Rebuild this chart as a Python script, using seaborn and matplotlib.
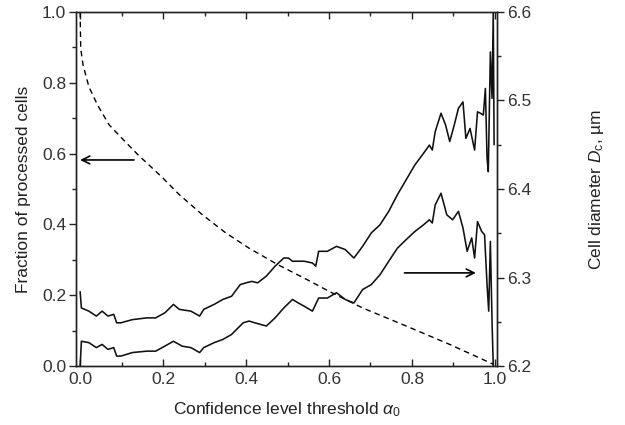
import matplotlib
matplotlib.use("Agg")
import matplotlib.pyplot as plt
import seaborn as sns
import pandas as pd
from matplotlib.ticker import MultipleLocator, FormatStrFormatter

sns.set_style("ticks")
plt.rcParams['font.family'] = ['Liberation Sans', 'DejaVu Sans']
plt.rcParams['mathtext.fontset'] = 'custom'
plt.rcParams['mathtext.rm'] = 'Liberation Sans'
plt.rcParams['mathtext.it'] = 'Liberation Sans:italic'

# Fraction of processed cells (left axis, dashed)
frac_x = [0.0, 0.0014, 0.007, 0.021, 0.042, 0.070, 0.105, 0.140, 0.196, 0.239,
          0.295, 0.351, 0.407, 0.477, 0.547, 0.600, 0.681, 0.786, 0.891, 0.996]
frac_y = [1.0, 0.897, 0.85, 0.789, 0.737, 0.681, 0.638, 0.596, 0.535, 0.484,
          0.427, 0.376, 0.333, 0.286, 0.244, 0.211, 0.164, 0.113, 0.061, 0.005]

# Cell diameter, upper curve (right axis)
up_x = [0.000, 0.003, 0.021, 0.039, 0.053, 0.067, 0.081, 0.088, 0.098, 0.126,
        0.161, 0.182, 0.204, 0.225, 0.239, 0.267, 0.288, 0.298, 0.323, 0.344,
        0.365, 0.386, 0.400, 0.414, 0.428, 0.449, 0.470, 0.491, 0.502, 0.512,
        0.540, 0.560, 0.568, 0.575, 0.596, 0.618, 0.639, 0.660, 0.681, 0.702,
        0.723, 0.744, 0.765, 0.786, 0.807, 0.828, 0.842, 0.849, 0.856, 0.870,
        0.881, 0.891, 0.902, 0.912, 0.923, 0.930, 0.940, 0.951, 0.958, 0.965,
        0.972, 0.977, 0.981, 0.984, 0.989, 0.993, 0.996, 0.998]
up_y = [6.284, 6.2656, 6.262, 6.2564, 6.262, 6.2564, 6.2584, 6.2488, 6.2488, 6.2524,
        6.2544, 6.2544, 6.260, 6.2696, 6.264, 6.262, 6.2564, 6.264, 6.2696, 6.2752,
        6.2788, 6.292, 6.294, 6.2956, 6.294, 6.3016, 6.3128, 6.322, 6.322, 6.3184,
        6.3184, 6.3164, 6.3128, 6.3296, 6.3296, 6.3352, 6.3316, 6.322, 6.3352, 6.3504,
        6.3596, 6.3748, 6.3936, 6.4104, 6.4272, 6.4404, 6.4496, 6.444, 6.4648, 6.4856,
        6.4724, 6.4536, 6.4724, 6.4912, 6.4984, 6.4572, 6.4684, 6.444, 6.4872, 6.4856,
        6.4836, 6.5136, 6.4348, 6.4196, 6.5548, 6.5024, 6.600, 6.450]

# Cell diameter, lower curve (right axis)
lo_x = [0.000, 0.003, 0.021, 0.039, 0.053, 0.067, 0.081, 0.088, 0.098, 0.126,
        0.161, 0.182, 0.204, 0.225, 0.246, 0.267, 0.288, 0.298, 0.323, 0.344,
        0.365, 0.393, 0.407, 0.421, 0.449, 0.470, 0.491, 0.512, 0.526, 0.540,
        0.560, 0.575, 0.596, 0.618, 0.639, 0.660, 0.681, 0.702, 0.723, 0.744,
        0.765, 0.786, 0.807, 0.828, 0.842, 0.849, 0.856, 0.870, 0.884, 0.898,
        0.912, 0.923, 0.933, 0.944, 0.951, 0.958, 0.968, 0.975, 0.981, 0.985,
        0.989, 0.993, 0.996]
lo_y = [6.200, 6.228, 6.2264, 6.2208, 6.2244, 6.2188, 6.2208, 6.2112, 6.2112, 6.2152,
        6.2168, 6.2168, 6.2224, 6.228, 6.2224, 6.2208, 6.2152, 6.2208, 6.2264, 6.230,
        6.2356, 6.2488, 6.2508, 6.2488, 6.2452, 6.2544, 6.2656, 6.2752, 6.2712, 6.2676,
        6.262, 6.2768, 6.2768, 6.2828, 6.2752, 6.2712, 6.2864, 6.292, 6.3032, 6.3184,
        6.3332, 6.3428, 6.352, 6.3596, 6.3652, 6.3616, 6.382, 6.3952, 6.3708, 6.3652,
        6.3748, 6.356, 6.3296, 6.3448, 6.322, 6.3632, 6.352, 6.3484, 6.292, 6.262,
        6.3408, 6.2508, 6.200]

df_frac = pd.DataFrame({"x": frac_x, "y": frac_y})
df_up = pd.DataFrame({"x": up_x, "y": up_y})
df_lo = pd.DataFrame({"x": lo_x, "y": lo_y})

fig = plt.figure(figsize=(6.25, 4.25), dpi=100)
ax = fig.add_axes([0.1216, 0.1388, 0.6736, 0.833])
ax2 = ax.twinx()

sns.lineplot(data=df_frac, x="x", y="y", ax=ax, color="black", lw=1.0,
             linestyle=(0, (4, 3)), sort=False, estimator=None)
sns.lineplot(data=df_up, x="x", y="y", ax=ax2, color="#111111", lw=1.15,
             sort=False, estimator=None)
sns.lineplot(data=df_lo, x="x", y="y", ax=ax2, color="#111111", lw=1.15,
             sort=False, estimator=None)

ax.set_xlim(-0.01, 1.005)
ax.set_ylim(0.0, 1.0)
ax2.set_ylim(6.2, 6.6)

ax.xaxis.set_major_locator(MultipleLocator(0.2))
ax.xaxis.set_minor_locator(MultipleLocator(0.1))
ax.yaxis.set_major_locator(MultipleLocator(0.2))
ax.yaxis.set_minor_locator(MultipleLocator(0.1))
ax2.yaxis.set_major_locator(MultipleLocator(0.1))
ax2.yaxis.set_minor_locator(MultipleLocator(0.05))

ax.xaxis.set_major_formatter(FormatStrFormatter('%.1f'))
ax.yaxis.set_major_formatter(FormatStrFormatter('%.1f'))
ax2.yaxis.set_major_formatter(FormatStrFormatter('%.1f'))

fs = 12.5
ax.tick_params(axis='x', which='both', direction='in', top=True, bottom=True,
               labelsize=fs, colors='#222222', labelcolor='#333333', pad=4)
ax.tick_params(axis='x', which='major', length=5, width=1)
ax.tick_params(axis='x', which='minor', length=3, width=1)
ax.tick_params(axis='y', which='both', direction='out', labelsize=fs,
               colors='#222222', labelcolor='#333333', pad=2)
ax.tick_params(axis='y', which='major', length=5, width=1)
ax.tick_params(axis='y', which='minor', length=3, width=1)
ax2.tick_params(axis='y', which='both', direction='out', labelsize=fs,
                colors='#222222', labelcolor='#333333', pad=2)
ax2.tick_params(axis='y', which='major', length=5, width=1)
ax2.tick_params(axis='y', which='minor', length=3, width=1)

for a in (ax, ax2):
    for s in a.spines.values():
        s.set_linewidth(1.0)
        s.set_color('#222222')
        s.set_visible(True)

ax.set_xlabel(r"Confidence level threshold $\alpha_0$", fontsize=fs,
              color='#222222', labelpad=10)
ax.set_ylabel("Fraction of processed cells", fontsize=fs, color='#222222',
              labelpad=8)
ax2.set_ylabel(r"Cell diameter $D_\mathrm{c}$, µm", fontsize=fs,
               color='#222222', labelpad=40)

ax.annotate("", xy=(0.0, 0.582), xytext=(0.13, 0.582),
            arrowprops=dict(arrowstyle="->", lw=1.2, color='black',
                            mutation_scale=14, shrinkA=0, shrinkB=0))
ax.annotate("", xy=(0.954, 0.263), xytext=(0.782, 0.263),
            arrowprops=dict(arrowstyle="->", lw=1.2, color='black',
                            mutation_scale=14, shrinkA=0, shrinkB=0))

fig.savefig("out.png", dpi=100)
